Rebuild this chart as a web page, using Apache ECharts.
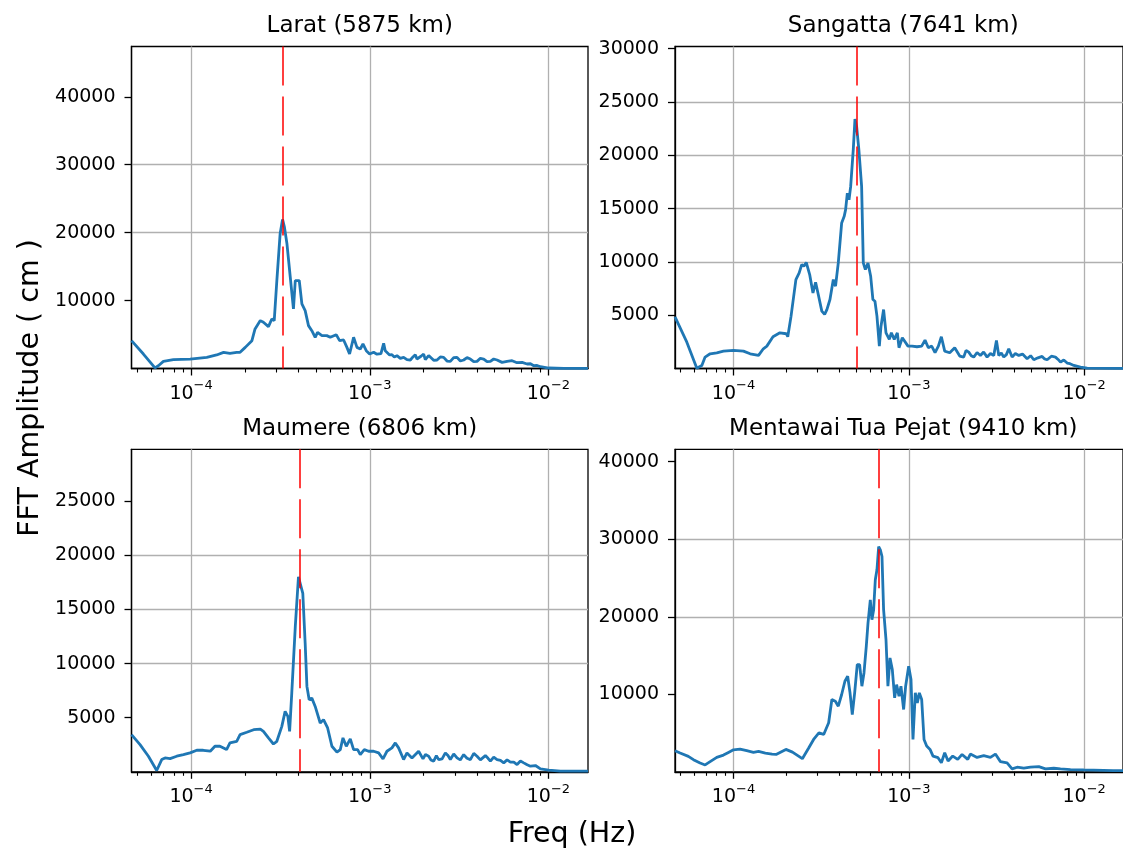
<!DOCTYPE html>
<html>
<head>
<meta charset="utf-8">
<title>FFT Amplitude</title>
<script src="https://cdn.jsdelivr.net/npm/echarts@6/dist/echarts.min.js"></script>
<style>
    html, body { margin: 0; padding: 0; background: #fff; }
    #fftChart { width: 1123px; height: 849px; }
</style>
</head>
<body>
<div id="fftChart"></div>
<script>
// 站点名称与距离 (km)
const stationNames = ['Larat', 'Sangatta', 'Maumere', 'Mentawai Tua Pejat']
const stationDist = [5875, 7641, 6806, 9410]
// 红色虚线频率 (Hz)
const peakFreq = [3.26e-4, 5.05e-4, 4.08e-4, 6.75e-4]
// y 轴上限、刻度间隔与刻度
const ampMax = [47400, 30200, 29800, 41600]
const ampStep = [10000, 5000, 5000, 10000]
const ampTicks = [
    [10000, 20000, 30000, 40000],
    [5000, 10000, 15000, 20000, 25000, 30000],
    [5000, 10000, 15000, 20000, 25000],
    [10000, 20000, 30000, 40000]
]
// x 轴范围与刻度
const freqMin = 4.64e-5
const freqMax = 1.665e-2
const freqTicks = [1e-4, 1e-3, 1e-2]
const freqMinorTicks = [
    5e-5, 6e-5, 7e-5, 8e-5, 9e-5,
    2e-4, 3e-4, 4e-4, 5e-4, 6e-4, 7e-4, 8e-4, 9e-4,
    2e-3, 3e-3, 4e-3, 5e-3, 6e-3, 7e-3, 8e-3, 9e-3
]

// 频谱数据 [频率 Hz, 振幅 cm]
const laratSpec = [
    [4.64e-5, 4100], [5.41e-5, 2130], [6.28e-5, 80], [6.56e-5, 410], [7.00e-5, 1050],
    [7.96e-5, 1300], [9.87e-5, 1390], [1.224e-4, 1640], [1.39e-4, 1990], [1.52e-4, 2380],
    [1.65e-4, 2230], [1.80e-4, 2380], [1.88e-4, 2380], [2.01e-4, 3110], [2.19e-4, 4100],
    [2.28e-4, 5820], [2.44e-4, 7050], [2.54e-4, 6800], [2.71e-4, 6160], [2.83e-4, 7290],
    [2.92e-4, 7050], [3.02e-4, 12950], [3.15e-4, 19830], [3.25e-4, 21950], [3.33e-4, 20810],
    [3.44e-4, 18360], [3.59e-4, 13440], [3.74e-4, 8770], [3.83e-4, 12950], [4.03e-4, 12950],
    [4.17e-4, 9510], [4.35e-4, 8520], [4.54e-4, 6310], [4.74e-4, 5570], [4.95e-4, 4590],
    [5.10e-4, 5330], [5.40e-4, 4840], [5.75e-4, 4840], [6.01e-4, 4590], [6.49e-4, 4980],
    [6.78e-4, 4100], [7.14e-4, 4200], [7.45e-4, 3110], [7.71e-4, 2130], [8.12e-4, 4590],
    [8.48e-4, 3110], [8.85e-4, 2870], [9.16e-4, 3610], [9.56e-4, 2620], [9.98e-4, 2130],
    [1.051e-3, 2380], [1.097e-3, 2100], [1.121e-3, 1880], [1.155e-3, 2200], [1.196e-3, 3700],
    [1.221e-3, 2600], [1.248e-3, 2380], [1.291e-3, 2000], [1.331e-3, 2030], [1.372e-3, 1700],
    [1.420e-3, 1880], [1.482e-3, 1500], [1.547e-3, 1640], [1.615e-3, 1300], [1.687e-3, 1250],
    [1.745e-3, 1700], [1.798e-3, 2030], [1.837e-3, 1400], [1.877e-3, 1390], [1.935e-3, 1800],
    [2.003e-3, 2130], [2.046e-3, 1300], [2.091e-3, 1150], [2.136e-3, 1900], [2.183e-3, 1740],
    [2.279e-3, 1200], [2.379e-3, 1250], [2.483e-3, 1700], [2.592e-3, 1640], [2.706e-3, 1100],
    [2.825e-3, 1050], [2.949e-3, 1600], [3.079e-3, 1640], [3.214e-3, 1100], [3.355e-3, 1250],
    [3.503e-3, 1600], [3.656e-3, 1390], [3.817e-3, 1000], [3.985e-3, 1050], [4.159e-3, 1500],
    [4.342e-3, 1390], [4.533e-3, 1000], [4.733e-3, 1050], [4.940e-3, 1400], [5.157e-3, 1250],
    [5.501e-3, 900], [5.866e-3, 1050], [6.259e-3, 1150], [6.675e-3, 850], [7.123e-3, 900],
    [7.595e-3, 660], [7.929e-3, 700], [8.277e-3, 410], [8.641e-3, 450], [9.020e-3, 260],
    [1.004e-2, 70], [1.219e-2, 30], [1.665e-2, 30]
]
const sangattaSpec = [
    [4.64e-5, 4850], [5.42e-5, 2470], [6.18e-5, 30], [6.60e-5, 290], [6.89e-5, 1070],
    [7.36e-5, 1380], [8.03e-5, 1475], [8.77e-5, 1630], [1.00e-4, 1700], [1.14e-4, 1630],
    [1.245e-4, 1380], [1.39e-4, 1225], [1.48e-4, 1850], [1.55e-4, 2100], [1.68e-4, 2980],
    [1.84e-4, 3350], [2.00e-4, 3260], [2.04e-4, 2980], [2.13e-4, 4910], [2.27e-4, 8340],
    [2.37e-4, 8970], [2.45e-4, 9750], [2.52e-4, 9590], [2.60e-4, 9950], [2.72e-4, 8810],
    [2.84e-4, 7090], [2.94e-4, 8090], [3.06e-4, 6780], [3.19e-4, 5380], [3.31e-4, 5070],
    [3.41e-4, 5530], [3.55e-4, 6470], [3.71e-4, 8340], [3.82e-4, 7720], [3.96e-4, 9900],
    [4.14e-4, 13650], [4.28e-4, 14270], [4.36e-4, 14900], [4.46e-4, 16450], [4.56e-4, 15830],
    [4.66e-4, 17080], [4.82e-4, 20510], [4.93e-4, 23400], [5.04e-4, 22690], [5.19e-4, 20510],
    [5.38e-4, 17080], [5.50e-4, 9900], [5.65e-4, 9280], [5.85e-4, 9900], [6.06e-4, 8650],
    [6.24e-4, 6470], [6.41e-4, 6310], [6.58e-4, 4910], [6.79e-4, 2100], [6.94e-4, 3970],
    [7.18e-4, 5530], [7.41e-4, 3350], [7.74e-4, 2730], [7.95e-4, 3350], [8.26e-4, 2730],
    [8.60e-4, 3350], [8.79e-4, 1950], [9.18e-4, 2880], [9.89e-4, 2100], [1.043e-3, 2100],
    [1.113e-3, 2040], [1.184e-3, 2100], [1.237e-3, 2660], [1.292e-3, 1950], [1.350e-3, 2100],
    [1.411e-3, 1480], [1.474e-3, 2100], [1.533e-3, 2980], [1.602e-3, 1630], [1.711e-3, 1480],
    [1.827e-3, 1950], [1.951e-3, 1170], [2.056e-3, 1070], [2.12e-3, 1700], [2.196e-3, 1540],
    [2.27e-3, 1200], [2.345e-3, 1070], [2.45e-3, 1500], [2.559e-3, 1225], [2.67e-3, 1550],
    [2.795e-3, 1070], [2.92e-3, 1400], [3.051e-3, 1225], [3.160e-3, 2630], [3.258e-3, 1225],
    [3.37e-3, 1450], [3.478e-3, 1070], [3.60e-3, 1300], [3.715e-3, 1850], [3.881e-3, 1070],
    [4.05e-3, 1400], [4.236e-3, 1225], [4.45e-3, 1350], [4.727e-3, 915], [4.95e-3, 1200],
    [5.160e-3, 820], [5.45e-3, 1000], [5.757e-3, 1130], [5.95e-3, 900], [6.150e-3, 820],
    [6.50e-3, 1150], [6.861e-3, 1070], [7.10e-3, 850], [7.327e-3, 600], [7.65e-3, 800],
    [7.998e-3, 510], [8.30e-3, 450], [8.730e-3, 290], [9.530e-3, 130], [1.040e-2, 40],
    [1.464e-2, 20], [1.665e-2, 20]
]
const maumereSpec = [
    [4.64e-5, 3430], [5.18e-5, 2510], [5.77e-5, 1440], [6.42e-5, 120], [6.85e-5, 1130],
    [7.15e-5, 1285], [7.63e-5, 1220], [8.31e-5, 1440], [9.06e-5, 1590], [9.87e-5, 1745],
    [1.076e-4, 1990], [1.17e-4, 1990], [1.28e-4, 1900], [1.36e-4, 2360], [1.45e-4, 2360],
    [1.58e-4, 2050], [1.65e-4, 2670], [1.80e-4, 2820], [1.88e-4, 3430], [2.05e-4, 3650],
    [2.24e-4, 3890], [2.44e-4, 3950], [2.54e-4, 3740], [2.71e-4, 3130], [2.89e-4, 2570],
    [3.02e-4, 2820], [3.22e-4, 4200], [3.36e-4, 5580], [3.48e-4, 5120], [3.56e-4, 3740],
    [3.66e-4, 7270], [3.83e-4, 13410], [3.99e-4, 18020], [4.08e-4, 18170], [4.22e-4, 16480],
    [4.35e-4, 11880], [4.45e-4, 7890], [4.58e-4, 6660], [4.74e-4, 6810], [4.95e-4, 6040],
    [5.28e-4, 4510], [5.51e-4, 4820], [5.81e-4, 4050], [6.14e-4, 2360], [6.55e-4, 1810],
    [6.84e-4, 2050], [7.08e-4, 3130], [7.39e-4, 2360], [7.78e-4, 3040], [8.12e-4, 2050],
    [8.55e-4, 2050], [8.85e-4, 1590], [9.32e-4, 2050], [9.85e-4, 1900], [1.051e-3, 1900],
    [1.121e-3, 1745], [1.186e-3, 1190], [1.248e-3, 1900], [1.331e-3, 2210], [1.390e-3, 2670],
    [1.450e-3, 2210], [1.547e-3, 1130], [1.615e-3, 1745], [1.723e-3, 1285], [1.877e-3, 1900],
    [1.986e-3, 1190], [2.05e-3, 1600], [2.136e-3, 1440], [2.20e-3, 1100], [2.279e-3, 980],
    [2.36e-3, 1500], [2.430e-3, 1130], [2.54e-3, 1200], [2.649e-3, 1745], [2.74e-3, 1500],
    [2.825e-3, 1130], [2.95e-3, 1650], [3.079e-3, 1285], [3.21e-3, 1100], [3.355e-3, 1590],
    [3.50e-3, 1250], [3.656e-3, 1130], [3.82e-3, 1700], [3.985e-3, 1440], [4.16e-3, 1100],
    [4.437e-3, 1500], [4.59e-3, 1250], [4.733e-3, 980], [4.94e-3, 1350], [5.157e-3, 1130],
    [5.39e-3, 1050], [5.621e-3, 825], [5.87e-3, 1100], [6.125e-3, 886], [6.40e-3, 900],
    [6.675e-3, 670], [6.97e-3, 1000], [7.275e-3, 825], [7.60e-3, 650], [7.929e-3, 520],
    [8.457e-3, 580], [9.020e-3, 270], [1.004e-2, 150], [1.167e-2, 60], [1.665e-2, 60]
]
const mentawaiSpec = [
    [4.64e-5, 2720], [4.96e-5, 2420], [5.53e-5, 1990], [5.91e-5, 1570], [6.45e-5, 1140],
    [6.89e-5, 885], [7.36e-5, 1310], [8.03e-5, 1860], [8.77e-5, 2160], [9.36e-5, 2500],
    [1.00e-4, 2840], [1.09e-4, 2930], [1.19e-4, 2720], [1.30e-4, 2500], [1.39e-4, 2630],
    [1.52e-4, 2420], [1.66e-4, 2290], [1.75e-4, 2240], [1.99e-4, 2890], [2.17e-4, 2540],
    [2.47e-4, 1690], [2.69e-4, 3100], [2.88e-4, 4260], [3.07e-4, 5030], [3.27e-4, 4820],
    [3.49e-4, 6320], [3.64e-4, 9320], [3.81e-4, 9110], [3.96e-4, 8460], [4.14e-4, 9970],
    [4.32e-4, 11680], [4.48e-4, 12330], [4.62e-4, 10180], [4.76e-4, 7390], [4.91e-4, 10180],
    [5.08e-4, 13830], [5.24e-4, 13830], [5.40e-4, 11040], [5.55e-4, 12750], [5.72e-4, 16190],
    [5.85e-4, 19190], [6.03e-4, 22190], [6.16e-4, 19620], [6.30e-4, 20910], [6.44e-4, 24770],
    [6.58e-4, 26050], [6.73e-4, 29060], [6.88e-4, 28630], [7.03e-4, 27770], [7.18e-4, 20910],
    [7.41e-4, 17040], [7.60e-4, 11040], [7.81e-4, 14690], [8.05e-4, 13180], [8.30e-4, 9540],
    [8.52e-4, 11250], [8.79e-4, 9750], [9.02e-4, 11040], [9.34e-4, 8040], [9.59e-4, 11040],
    [9.98e-4, 13610], [1.029e-3, 11900], [1.056e-3, 4170], [1.089e-3, 10180], [1.118e-3, 8890],
    [1.148e-3, 10180], [1.184e-3, 9320], [1.221e-3, 4170], [1.264e-3, 3320], [1.321e-3, 2890],
    [1.374e-3, 2030], [1.467e-3, 1820], [1.533e-3, 1170], [1.602e-3, 2460], [1.674e-3, 1390],
    [1.780e-3, 2030], [1.900e-3, 1600], [2.012e-3, 2240], [2.168e-3, 1600], [2.244e-3, 2290],
    [2.450e-3, 1860], [2.674e-3, 2080], [2.919e-3, 1860], [3.117e-3, 2290], [3.330e-3, 1310],
    [3.634e-3, 1140], [3.881e-3, 370], [4.145e-3, 590], [4.525e-3, 460], [4.939e-3, 590],
    [5.511e-3, 670], [6.017e-3, 370], [6.713e-3, 460], [7.327e-3, 370], [8.356e-3, 290],
    [9.956e-3, 240], [1.464e-2, 160], [1.665e-2, 150]
]
const spectra = [laratSpec, sangattaSpec, maumereSpec, mentawaiSpec]

// 布局
const fontName = 'DejaVu Sans'
const boxes = [
    { left: 131.5, top: 46.5, height: 322 },
    { left: 675, top: 46.5, height: 322 },
    { left: 131.5, top: 449.3, height: 322.5 },
    { left: 675, top: 449.3, height: 322.5 }
]
const boxWidth = 456.5
const lineColor = '#1f77b4'
const gridColor = '#b0b0b0'

// x 轴刻度标签 10^n
function freqLabel (value) {
    const p = Math.round(Math.log10(value))
    return '{b|10}{s|' + (p < 0 ? '\u2212' + (-p) : p) + '}'
}

function buildOptions () {
    const grid = []
    const xAxis = []
    const minorAxis = []
    const yAxis = []
    const series = []
    const graphic = []
    boxes.forEach((box, i) => {
        grid.push({
            left: box.left,
            top: box.top,
            width: boxWidth,
            height: box.height,
            show: true,
            borderColor: '#000',
            borderWidth: 1.3,
            backgroundColor: 'transparent'
        })
        xAxis.push({
            type: 'log',
            logBase: 10,
            gridIndex: i,
            min: freqMin,
            max: freqMax,
            position: 'bottom',
            axisLine: { show: true, onZero: false, lineStyle: { color: '#000', width: 1.3 } },
            axisTick: { show: true, customValues: freqTicks, length: 7, lineStyle: { color: '#000', width: 1.3 } },
            axisLabel: {
                customValues: freqTicks,
                margin: 11,
                formatter: freqLabel,
                rich: {
                    b: { fontFamily: fontName, fontSize: 19, color: '#000', verticalAlign: 'bottom', lineHeight: 24 },
                    s: { fontFamily: fontName, fontSize: 13, color: '#000', verticalAlign: 'top', lineHeight: 13 }
                }
            },
            splitLine: { show: true, showMinLine: true, showMaxLine: true, lineStyle: { color: gridColor, width: 1.3 } }
        })
        // 次刻度
        minorAxis.push({
            type: 'log',
            logBase: 10,
            gridIndex: i,
            min: freqMin,
            max: freqMax,
            position: 'bottom',
            axisLine: { show: false },
            axisTick: { show: true, customValues: freqMinorTicks, length: 4, lineStyle: { color: '#000', width: 1.1 } },
            axisLabel: { show: false },
            splitLine: { show: false }
        })
        yAxis.push({
            type: 'value',
            gridIndex: i,
            min: 0,
            max: ampMax[i],
            interval: ampStep[i],
            axisLine: { show: true, onZero: false, lineStyle: { color: '#000', width: 1.3 } },
            axisTick: { show: true, customValues: ampTicks[i], length: 7, lineStyle: { color: '#000', width: 1.3 } },
            axisLabel: {
                customValues: ampTicks[i],
                margin: 16,
                fontFamily: fontName,
                fontSize: 19,
                color: '#000',
                formatter: v => String(v)
            },
            splitLine: { show: true, showMinLine: false, showMaxLine: false, lineStyle: { color: gridColor, width: 1.3 } }
        })
        series.push({
            name: stationNames[i],
            type: 'line',
            xAxisIndex: i,
            yAxisIndex: i,
            data: spectra[i],
            showSymbol: false,
            symbol: 'none',
            animation: false,
            lineStyle: { color: lineColor, width: 2.8 },
            markLine: {
                silent: true,
                symbol: ['none', 'none'],
                animation: false,
                z: 10,
                label: { show: false },
                lineStyle: { color: '#ff0000', width: 1.5, type: [39, 11] },
                data: [[{ coord: [peakFreq[i], ampMax[i]] }, { coord: [peakFreq[i], 0] }]]
            }
        })
        // 子图标题
        graphic.push({
            type: 'text',
            x: box.left + boxWidth / 2,
            y: box.top - 20,
            style: {
                text: stationNames[i] + ' (' + stationDist[i] + ' km)',
                fontFamily: fontName,
                fontSize: 23,
                fill: '#000',
                align: 'center',
                verticalAlign: 'middle'
            }
        })
    })
    // 公共坐标轴标题
    graphic.push({
        type: 'text',
        x: 31,
        y: 388,
        rotation: Math.PI / 2,
        style: {
            text: 'FFT Amplitude ( cm )',
            fontFamily: fontName,
            fontSize: 28.5,
            fill: '#000',
            align: 'center',
            verticalAlign: 'middle'
        }
    })
    graphic.push({
        type: 'text',
        x: 572,
        y: 835,
        style: {
            text: 'Freq (Hz)',
            fontFamily: fontName,
            fontSize: 28.5,
            fill: '#000',
            align: 'center',
            verticalAlign: 'middle'
        }
    })
    return {
        backgroundColor: '#fff',
        animation: false,
        grid: grid,
        xAxis: xAxis.concat(minorAxis),
        yAxis: yAxis,
        series: series,
        graphic: graphic
    }
}

// 绘制频谱图
const myChart = echarts.init(document.getElementById('fftChart'), null, { renderer: 'canvas' })
myChart.setOption(buildOptions())
</script>
</body>
</html>
